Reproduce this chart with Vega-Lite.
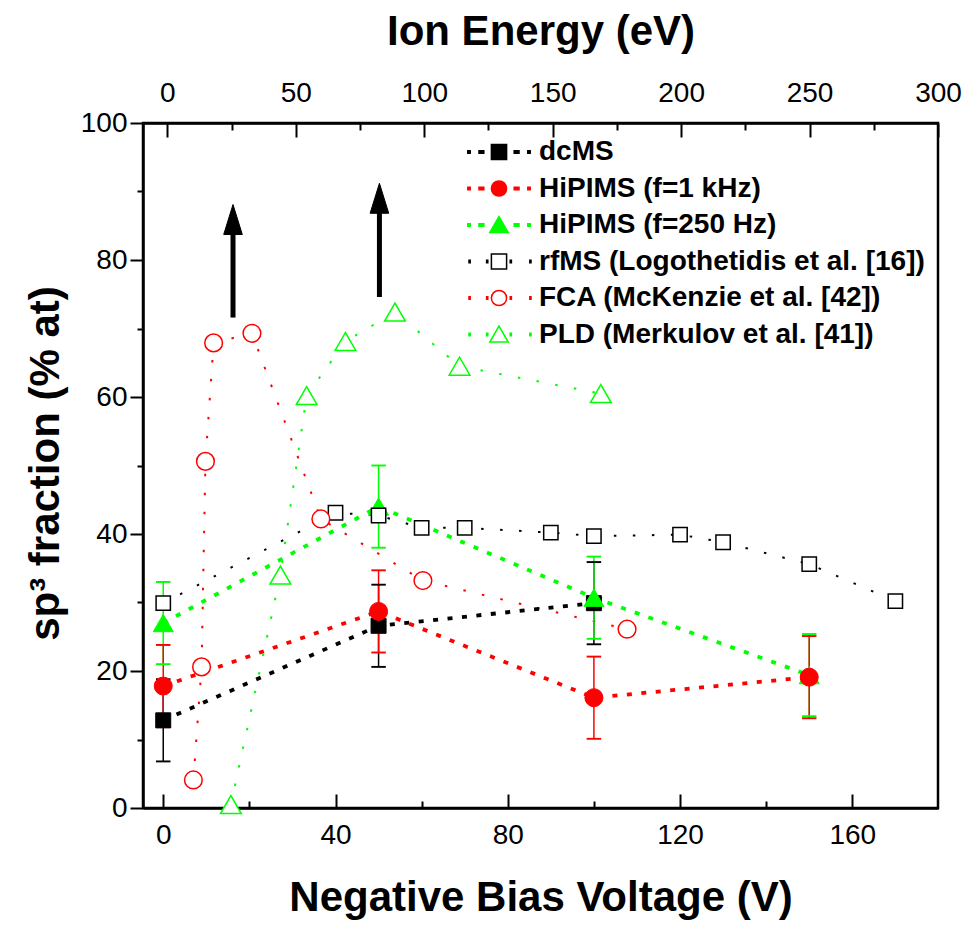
{
  "$schema": "https://vega.github.io/schema/vega-lite/v6.json",
  "width": 795,
  "height": 685,
  "autosize": {"type": "none"},
  "padding": {"left": 143, "top": 123, "right": 30, "bottom": 120},
  "background": "white",
  "config": {
    "font": "Liberation Sans",
    "view": {"stroke": "black", "strokeWidth": 2.5},
    "axis": {
      "grid": false,
      "domainColor": "black",
      "domainWidth": 2.5,
      "tickColor": "black",
      "tickWidth": 2,
      "labelFont": "Liberation Sans",
      "labelFontSize": 28,
      "labelColor": "black",
      "labelFlush": false,
      "labelOverlap": false,
      "titleFont": "Liberation Sans",
      "titleFontSize": 42,
      "titleFontWeight": "bold",
      "titleColor": "black"
    },
    "legend": {
      "symbolOpacity": 1
    }
  },
  "datasets": {
    "exp": [
      {"series": "dcMS", "v": 0, "y": 12.8, "lo": 6.8, "hi": 18.8},
      {"series": "dcMS", "v": 50, "y": 26.6, "lo": 20.6, "hi": 32.6},
      {"series": "dcMS", "v": 100, "y": 29.9, "lo": 23.9, "hi": 35.9},
      {"series": "HiPIMS (f=250 Hz)", "v": 0, "y": 27.0, "lo": 21.0, "hi": 33.0},
      {"series": "HiPIMS (f=250 Hz)", "v": 50, "y": 44.0, "lo": 38.0, "hi": 50.0},
      {"series": "HiPIMS (f=250 Hz)", "v": 100, "y": 30.7, "lo": 24.7, "hi": 36.7},
      {"series": "HiPIMS (f=250 Hz)", "v": 150, "y": 19.4, "lo": 13.4, "hi": 25.4},
      {"series": "HiPIMS (f=1 kHz)", "v": 0, "y": 17.8, "lo": 11.8, "hi": 23.8},
      {"series": "HiPIMS (f=1 kHz)", "v": 50, "y": 28.7, "lo": 22.7, "hi": 34.7},
      {"series": "HiPIMS (f=1 kHz)", "v": 100, "y": 16.1, "lo": 10.1, "hi": 22.1},
      {"series": "HiPIMS (f=1 kHz)", "v": 150, "y": 19.1, "lo": 13.1, "hi": 25.1}
    ],
    "lit": [
      {"series": "rfMS (Logothetidis et al. [16])", "v": 0, "y": 29.9},
      {"series": "rfMS (Logothetidis et al. [16])", "v": 40, "y": 43.1},
      {"series": "rfMS (Logothetidis et al. [16])", "v": 50, "y": 42.7},
      {"series": "rfMS (Logothetidis et al. [16])", "v": 60, "y": 40.9},
      {"series": "rfMS (Logothetidis et al. [16])", "v": 70, "y": 40.9},
      {"series": "rfMS (Logothetidis et al. [16])", "v": 90, "y": 40.2},
      {"series": "rfMS (Logothetidis et al. [16])", "v": 100, "y": 39.7},
      {"series": "rfMS (Logothetidis et al. [16])", "v": 120, "y": 39.9},
      {"series": "rfMS (Logothetidis et al. [16])", "v": 130, "y": 38.8},
      {"series": "rfMS (Logothetidis et al. [16])", "v": 150, "y": 35.6},
      {"series": "rfMS (Logothetidis et al. [16])", "v": 170, "y": 30.2},
      {"series": "FCA (McKenzie et al. [42])", "v": 7.0, "y": 4.1},
      {"series": "FCA (McKenzie et al. [42])", "v": 8.9, "y": 20.6},
      {"series": "FCA (McKenzie et al. [42])", "v": 9.8, "y": 50.6},
      {"series": "FCA (McKenzie et al. [42])", "v": 11.7, "y": 67.9},
      {"series": "FCA (McKenzie et al. [42])", "v": 20.6, "y": 69.3},
      {"series": "FCA (McKenzie et al. [42])", "v": 36.6, "y": 42.2},
      {"series": "FCA (McKenzie et al. [42])", "v": 60.3, "y": 33.2},
      {"series": "FCA (McKenzie et al. [42])", "v": 107.7, "y": 26.1},
      {"series": "PLD (Merkulov et al. [41])", "v": 15.7, "y": 0.5},
      {"series": "PLD (Merkulov et al. [41])", "v": 27.2, "y": 34.0},
      {"series": "PLD (Merkulov et al. [41])", "v": 33.3, "y": 60.2},
      {"series": "PLD (Merkulov et al. [41])", "v": 42.3, "y": 68.1},
      {"series": "PLD (Merkulov et al. [41])", "v": 53.8, "y": 72.4},
      {"series": "PLD (Merkulov et al. [41])", "v": 68.8, "y": 64.5},
      {"series": "PLD (Merkulov et al. [41])", "v": 101.6, "y": 60.5}
    ],
    "arrows": [
      {"v": 16.2, "y0": 71.6, "y1": 86.0, "tip": 88.1},
      {"v": 50.2, "y0": 74.6, "y1": 89.0, "tip": 91.2}
    ]
  },
  "layer": [
    {
      "encoding": {
        "x": {
          "field": "v",
          "type": "quantitative",
          "scale": {"domain": [-4.7, 179.9], "nice": false, "zero": false},
          "axis": {
            "orient": "bottom",
            "title": "Negative Bias Voltage (V)",
            "values": [0, 20, 40, 60, 80, 100, 120, 140, 160],
            "labelExpr": "datum.value % 40 === 0 ? datum.label : ''",
            "tickSize": {"condition": {"test": "datum.value % 40 === 0", "value": -14}, "value": -7},
            "labelPadding": 27,
            "titleBaseline": "alphabetic",
            "titleY": 102
          }
        },
        "y": {
          "field": "y",
          "type": "quantitative",
          "scale": {"domain": [0, 100], "nice": false, "zero": false},
          "axis": {
            "title": "sp³ fraction (% at)",
            "values": [0, 10, 20, 30, 40, 50, 60, 70, 80, 90, 100],
            "labelExpr": "datum.value % 20 === 0 ? datum.label : ''",
            "tickSize": {"condition": {"test": "datum.value % 20 === 0", "value": 13}, "value": 6},
            "labelPadding": 3,
            "titleBaseline": "alphabetic",
            "titleX": -85,
            "titleY": 340
          }
        }
      },
      "layer": [
        {
          "data": {"values": []},
          "mark": {"type": "point", "filled": true, "strokeWidth": 1.5},
          "encoding": {
            "stroke": {
              "field": "series", "type": "nominal",
              "scale": {
                "domain": ["dcMS", "HiPIMS (f=1 kHz)", "HiPIMS (f=250 Hz)", "rfMS (Logothetidis et al. [16])", "FCA (McKenzie et al. [42])", "PLD (Merkulov et al. [41])"],
                "range": ["#000000", "#ff0000", "#00ff00", "#000000", "#ff0000", "#00ff00"]
              },
              "legend": {
                "title": null, "orient": "none", "legendX": 315, "legendY": 15, "padding": 0,
                "labelFont": "Liberation Sans", "labelFontSize": 28, "labelFontWeight": "bold", "labelColor": "black", "labelLimit": 600,
                "symbolSize": 256, "symbolStrokeWidth": 1.5, "symbolOpacity": 1, "symbolOffset": 27, "labelOffset": 26, "rowPadding": 8.5
              }
            },
            "fill": {
              "field": "series", "type": "nominal",
              "scale": {
                "domain": ["dcMS", "HiPIMS (f=1 kHz)", "HiPIMS (f=250 Hz)", "rfMS (Logothetidis et al. [16])", "FCA (McKenzie et al. [42])", "PLD (Merkulov et al. [41])"],
                "range": ["#000000", "#ff0000", "#00ff00", "#ffffff", "#ffffff", "#ffffff"]
              },
              "legend": {
                "title": null, "orient": "none", "legendX": 315, "legendY": 15, "padding": 0,
                "labelFont": "Liberation Sans", "labelFontSize": 28, "labelFontWeight": "bold", "labelColor": "black", "labelLimit": 600,
                "symbolSize": 256, "symbolStrokeWidth": 1.5, "symbolOpacity": 1, "symbolOffset": 27, "labelOffset": 26, "rowPadding": 8.5
              }
            },
            "shape": {
              "field": "series", "type": "nominal",
              "scale": {
                "domain": ["dcMS", "HiPIMS (f=1 kHz)", "HiPIMS (f=250 Hz)", "rfMS (Logothetidis et al. [16])", "FCA (McKenzie et al. [42])", "PLD (Merkulov et al. [41])"],
                "range": [
                  "M-3.9,-0.15h0.3v0.3h-0.3zM-2.5,-0.15h0.6v0.3h-0.6zM1.9,-0.15h0.6v0.3h-0.6zM3.6,-0.15h0.3v0.3h-0.3zM-0.95,-0.95h1.9v1.9h-1.9z",
                  "M-3.9,-0.15h0.3v0.3h-0.3zM-2.5,-0.15h0.6v0.3h-0.6zM1.9,-0.15h0.6v0.3h-0.6zM3.6,-0.15h0.3v0.3h-0.3zM-0.95,0a0.95,0.95 0 1,0 1.9,0a0.95,0.95 0 1,0 -1.9,0z",
                  "M-3.9,-0.15h0.3v0.3h-0.3zM-2.5,-0.15h0.6v0.3h-0.6zM1.9,-0.15h0.6v0.3h-0.6zM3.6,-0.15h0.3v0.3h-0.3zM0,-1.05L1.15,0.95L-1.15,0.95z",
                  "M-3.75,-0.15h0.15v0.3h-0.15zM-1.55,-0.15h0.15v0.3h-0.15zM1.4,-0.15h0.15v0.3h-0.15zM3.85,-0.15h0.15v0.3h-0.15zM-0.95,-0.95h1.9v1.9h-1.9z",
                  "M-3.75,-0.15h0.15v0.3h-0.15zM-1.55,-0.15h0.15v0.3h-0.15zM1.4,-0.15h0.15v0.3h-0.15zM3.85,-0.15h0.15v0.3h-0.15zM-0.95,0a0.95,0.95 0 1,0 1.9,0a0.95,0.95 0 1,0 -1.9,0z",
                  "M-3.75,-0.15h0.15v0.3h-0.15zM-1.55,-0.15h0.15v0.3h-0.15zM1.4,-0.15h0.15v0.3h-0.15zM3.85,-0.15h0.15v0.3h-0.15zM0,-1.05L1.15,0.95L-1.15,0.95z"
                ]
              },
              "legend": {
                "title": null, "orient": "none", "legendX": 315, "legendY": 15, "padding": 0,
                "labelFont": "Liberation Sans", "labelFontSize": 28, "labelFontWeight": "bold", "labelColor": "black", "labelLimit": 600,
                "symbolSize": 256, "symbolStrokeWidth": 1.5, "symbolOpacity": 1, "symbolOffset": 27, "labelOffset": 26, "rowPadding": 8.5
              }
            }
          }
        },
        {
          "data": {"name": "lit"},
          "mark": {"type": "line", "strokeDash": [2.5, 16.5], "strokeWidth": 2, "strokeCap": "butt"},
          "encoding": {"stroke": {"field": "series", "type": "nominal"}}
        },
        {
          "data": {"name": "exp"},
          "mark": {"type": "line", "strokeDash": [5, 9.5], "strokeWidth": 3.8, "strokeCap": "butt"},
          "encoding": {"stroke": {"field": "series", "type": "nominal"}}
        },
        {
          "data": {"name": "exp"},
          "mark": {"type": "rule", "strokeWidth": 1.5},
          "encoding": {
            "y": {"field": "lo", "type": "quantitative"},
            "y2": {"field": "hi"},
            "stroke": {"field": "series", "type": "nominal"}
          }
        },
        {
          "data": {"name": "exp"},
          "mark": {"type": "tick", "orient": "horizontal", "size": 13, "thickness": 0.4, "fill": "transparent", "strokeWidth": 1.5, "opacity": 1},
          "encoding": {
            "y": {"field": "lo", "type": "quantitative"},
            "stroke": {"field": "series", "type": "nominal"}
          }
        },
        {
          "data": {"name": "exp"},
          "mark": {"type": "tick", "orient": "horizontal", "size": 13, "thickness": 0.4, "fill": "transparent", "strokeWidth": 1.5, "opacity": 1},
          "encoding": {
            "y": {"field": "hi", "type": "quantitative"},
            "stroke": {"field": "series", "type": "nominal"}
          }
        },
        {
          "data": {"name": "exp"},
          "transform": [{"filter": {"field": "series", "equal": "dcMS"}}],
          "mark": {"type": "point", "shape": "square", "size": 225, "filled": true, "fill": "#000000", "opacity": 1, "strokeWidth": 1},
          "encoding": {"stroke": {"field": "series", "type": "nominal"}}
        },
        {
          "data": {"name": "exp"},
          "transform": [{"filter": {"field": "series", "equal": "HiPIMS (f=250 Hz)"}}],
          "mark": {"type": "point", "shape": "triangle-up", "size": 400, "filled": true, "fill": "#00ff00", "opacity": 1, "strokeWidth": 1},
          "encoding": {"stroke": {"field": "series", "type": "nominal"}}
        },
        {
          "data": {"name": "exp"},
          "transform": [{"filter": {"field": "series", "equal": "HiPIMS (f=1 kHz)"}}],
          "mark": {"type": "point", "shape": "circle", "size": 324, "filled": true, "fill": "#ff0000", "opacity": 1, "strokeWidth": 1},
          "encoding": {"stroke": {"field": "series", "type": "nominal"}}
        },
        {
          "data": {"name": "lit"},
          "transform": [{"filter": {"field": "series", "equal": "rfMS (Logothetidis et al. [16])"}}],
          "mark": {"type": "point", "shape": "square", "size": 205, "filled": true, "fill": "#ffffff", "opacity": 1, "strokeWidth": 1.5},
          "encoding": {"stroke": {"field": "series", "type": "nominal"}}
        },
        {
          "data": {"name": "lit"},
          "transform": [{"filter": {"field": "series", "equal": "FCA (McKenzie et al. [42])"}}],
          "mark": {"type": "point", "shape": "circle", "size": 313, "filled": true, "fill": "#ffffff", "opacity": 1, "strokeWidth": 1.5},
          "encoding": {"stroke": {"field": "series", "type": "nominal"}}
        },
        {
          "data": {"name": "lit"},
          "transform": [{"filter": {"field": "series", "equal": "PLD (Merkulov et al. [41])"}}],
          "mark": {"type": "point", "shape": "triangle-up", "size": 430, "filled": true, "fill": "#ffffff", "opacity": 1, "strokeWidth": 1.5},
          "encoding": {"stroke": {"field": "series", "type": "nominal"}}
        },
        {
          "data": {"name": "arrows"},
          "mark": {"type": "rule", "stroke": "black", "strokeWidth": 5},
          "encoding": {
            "y": {"field": "y0", "type": "quantitative"},
            "y2": {"field": "y1"}
          }
        },
        {
          "data": {"name": "arrows"},
          "mark": {"type": "point", "shape": "M0,0L0.62,2L-0.62,2Z", "size": 900, "filled": true, "fill": "black", "stroke": "black", "strokeWidth": 1, "opacity": 1},
          "encoding": {
            "y": {"field": "tip", "type": "quantitative"}
          }
        }
      ]
    },
    {
      "data": {"values": [{"e": 0}]},
      "mark": {"type": "point", "opacity": 0},
      "encoding": {
        "x": {
          "field": "e",
          "type": "quantitative",
          "scale": {"domain": [-9.5, 300], "nice": false, "zero": false},
          "axis": {
            "orient": "top",
            "title": "Ion Energy (eV)",
            "values": [0, 25, 50, 75, 100, 125, 150, 175, 200, 225, 250, 275, 300],
            "labelExpr": "datum.value % 50 === 0 ? datum.label : ''",
            "tickSize": {"condition": {"test": "datum.value % 50 === 0", "value": -14}, "value": -7},
            "labelPadding": 30,
            "titleBaseline": "alphabetic",
            "titleY": -79
          }
        }
      }
    }
  ],
  "resolve": {"scale": {"x": "independent"}}
}
